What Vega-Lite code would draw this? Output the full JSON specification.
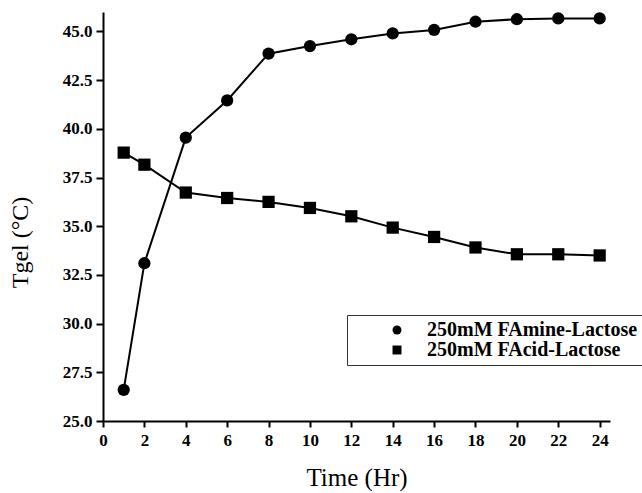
{
  "$schema": "https://vega.github.io/schema/vega-lite/v6.json",
  "width": 507,
  "height": 409,
  "autosize": {"type": "none"},
  "padding": {"left": 103, "top": 12, "right": 32, "bottom": 72},
  "background": "white",
  "config": {
    "view": {"stroke": null},
    "font": "Liberation Serif"
  },
  "data": {
    "values": [
      {"time": 1, "tgel": 26.6, "series": "250mM FAmine-Lactose"},
      {"time": 2, "tgel": 33.1, "series": "250mM FAmine-Lactose"},
      {"time": 4, "tgel": 39.55, "series": "250mM FAmine-Lactose"},
      {"time": 6, "tgel": 41.46, "series": "250mM FAmine-Lactose"},
      {"time": 8, "tgel": 43.86, "series": "250mM FAmine-Lactose"},
      {"time": 10, "tgel": 44.25, "series": "250mM FAmine-Lactose"},
      {"time": 12, "tgel": 44.6, "series": "250mM FAmine-Lactose"},
      {"time": 14, "tgel": 44.9, "series": "250mM FAmine-Lactose"},
      {"time": 16, "tgel": 45.08, "series": "250mM FAmine-Lactose"},
      {"time": 18, "tgel": 45.5, "series": "250mM FAmine-Lactose"},
      {"time": 20, "tgel": 45.63, "series": "250mM FAmine-Lactose"},
      {"time": 22, "tgel": 45.67, "series": "250mM FAmine-Lactose"},
      {"time": 24, "tgel": 45.67, "series": "250mM FAmine-Lactose"},
      {"time": 1, "tgel": 38.78, "series": "250mM FAcid-Lactose"},
      {"time": 2, "tgel": 38.16, "series": "250mM FAcid-Lactose"},
      {"time": 4, "tgel": 36.73, "series": "250mM FAcid-Lactose"},
      {"time": 6, "tgel": 36.45, "series": "250mM FAcid-Lactose"},
      {"time": 8, "tgel": 36.25, "series": "250mM FAcid-Lactose"},
      {"time": 10, "tgel": 35.94, "series": "250mM FAcid-Lactose"},
      {"time": 12, "tgel": 35.51, "series": "250mM FAcid-Lactose"},
      {"time": 14, "tgel": 34.93, "series": "250mM FAcid-Lactose"},
      {"time": 16, "tgel": 34.45, "series": "250mM FAcid-Lactose"},
      {"time": 18, "tgel": 33.91, "series": "250mM FAcid-Lactose"},
      {"time": 20, "tgel": 33.56, "series": "250mM FAcid-Lactose"},
      {"time": 22, "tgel": 33.56, "series": "250mM FAcid-Lactose"},
      {"time": 24, "tgel": 33.5, "series": "250mM FAcid-Lactose"}
    ]
  },
  "encoding": {
    "x": {
      "field": "time",
      "type": "quantitative",
      "scale": {"domain": [0, 24.5], "nice": false, "zero": false},
      "axis": {
        "title": "Time (Hr)",
        "values": [0, 2, 4, 6, 8, 10, 12, 14, 16, 18, 20, 22, 24],
        "grid": false,
        "domainColor": "black",
        "domainWidth": 2,
        "tickColor": "black",
        "tickWidth": 2,
        "tickSize": 6,
        "labelFont": "Liberation Serif",
        "labelFontSize": 17,
        "labelFontWeight": "bold",
        "labelColor": "black",
        "labelPadding": 5,
        "labelFlush": false,
        "titleFont": "Liberation Serif",
        "titleFontSize": 25,
        "titleFontWeight": "normal",
        "titleColor": "black",
        "titleY": 56,
        "titleBaseline": "middle"
      }
    },
    "y": {
      "field": "tgel",
      "type": "quantitative",
      "scale": {"domain": [25, 46], "nice": false, "zero": false},
      "axis": {
        "title": "Tgel (°C)",
        "values": [25, 27.5, 30, 32.5, 35, 37.5, 40, 42.5, 45],
        "format": ".1f",
        "grid": false,
        "domainColor": "black",
        "domainWidth": 2,
        "tickColor": "black",
        "tickWidth": 2,
        "tickSize": 7,
        "labelFont": "Liberation Serif",
        "labelFontSize": 17,
        "labelFontWeight": "bold",
        "labelColor": "black",
        "labelPadding": 4,
        "labelFlush": false,
        "titleFont": "Liberation Serif",
        "titleFontSize": 24,
        "titleFontWeight": "normal",
        "titleColor": "black",
        "titleX": -83,
        "titleY": 230,
        "titleAngle": -90,
        "titleAlign": "center",
        "titleBaseline": "middle"
      }
    }
  },
  "layer": [
    {
      "mark": {"type": "line", "color": "black", "strokeWidth": 2},
      "encoding": {"detail": {"field": "series", "type": "nominal"}}
    },
    {
      "mark": {"type": "point", "filled": true, "color": "black", "opacity": 1, "size": 150},
      "encoding": {
        "shape": {
          "field": "series",
          "type": "nominal",
          "scale": {"domain": ["250mM FAmine-Lactose", "250mM FAcid-Lactose"], "range": ["circle", "square"]},
          "legend": {
            "title": null,
            "orient": "none",
            "legendX": 244,
            "legendY": 303,
            "padding": 5,
            "fillColor": "white",
            "strokeColor": "#333333",
            "symbolSize": 80,
            "symbolOffset": 35,
            "symbolFillColor": "black",
            "symbolStrokeColor": "black",
            "symbolStrokeWidth": 1,
            "labelOffset": 20,
            "rowPadding": -4,
            "labelFont": "Liberation Serif",
            "labelFontSize": 20,
            "labelFontWeight": "bold",
            "labelColor": "black",
            "labelLimit": 400
          }
        }
      }
    }
  ]
}
